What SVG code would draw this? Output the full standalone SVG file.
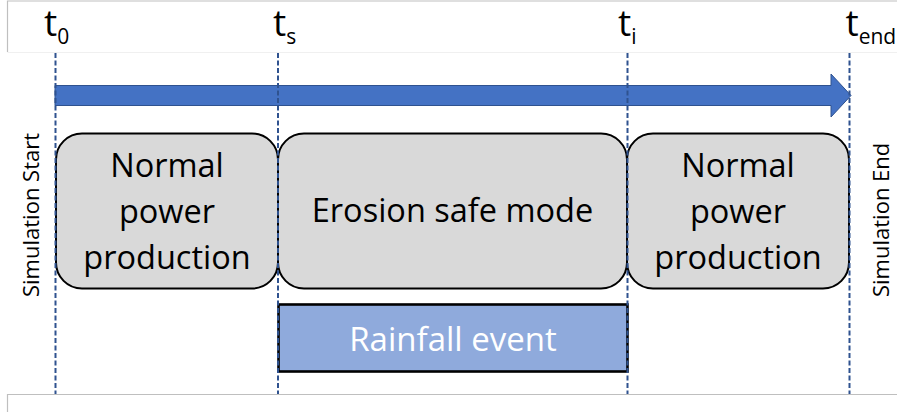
<svg xmlns="http://www.w3.org/2000/svg" width="897" height="412" viewBox="0 0 897 412">
  <style>
    .frame { fill: none; stroke: #bfbfbf; stroke-width: 1.2; }
    .frame-faint { fill: none; stroke: #f0f0f0; stroke-width: 1; }
    .phase { fill: #d9d9d9; stroke: #000; stroke-width: 2; }
    .label { font-family: "Open Sans", "Noto Sans", "Liberation Sans", sans-serif; fill: #000; }
    .phase-text { font-size: 32.5px; text-anchor: middle; }
    .side { font-size: 22px; }
    .tick { font-size: 37px; }
    .sub { font-size: 21px; }
    .guide { stroke: #2f528f; stroke-width: 2; stroke-dasharray: 5 2.5; fill: none; }
    .event { fill: #8faadc; stroke: #000; stroke-width: 2.6; }
  </style>

  <!-- light frame lines -->
  <path class="frame" d="M7.5 52 V1 H897"/>
  <path class="frame-faint" d="M7.5 52.5 H897"/>
  <path class="frame" d="M7.5 412 V394.5 H897"/>

  <!-- time labels -->
  <g id="time-labels" class="label">
    <text class="tick" x="44" y="36">t<tspan class="sub" dy="8">0</tspan></text>
    <text class="tick" x="273" y="36">t<tspan class="sub" dy="8">s</tspan></text>
    <text class="tick" x="618" y="36">t<tspan class="sub" dy="8">i</tspan></text>
    <text class="tick" x="845.5" y="36">t<tspan class="sub" dy="8">end</tspan></text>
  </g>

  <!-- time axis arrow -->
  <g id="timeline">
    <polygon points="55,85.5 831,85.5 831,74 851,95.5 831,117 831,105.5 55,105.5" fill="#4472c4" stroke="#2f528f" stroke-width="1"/>
  </g>

  <!-- phases -->
  <g id="phase-normal-1">
    <rect class="phase" x="56" y="133.5" width="222" height="155" rx="26" ry="26"/>
    <text class="label phase-text" x="167" y="176.5">Normal</text>
    <text class="label phase-text" x="167" y="222.5">power</text>
    <text class="label phase-text" x="167" y="268.5">production</text>
  </g>
  <g id="phase-erosion-safe">
    <rect class="phase" x="278" y="133.5" width="349" height="155" rx="26" ry="26"/>
    <text class="label phase-text" x="452.5" y="222">Erosion safe mode</text>
  </g>
  <g id="phase-normal-2">
    <rect class="phase" x="627" y="133.5" width="222" height="155" rx="26" ry="26"/>
    <text class="label phase-text" x="738" y="176.5">Normal</text>
    <text class="label phase-text" x="738" y="222.5">power</text>
    <text class="label phase-text" x="738" y="268.5">production</text>
  </g>

  <g id="rainfall-event">
    <rect class="event" x="278.5" y="304.5" width="349" height="67"/>
    <text class="label phase-text" x="453" y="351" style="fill:#fff;font-size:33px">Rainfall event</text>
  </g>

  <!-- simulation boundary labels -->
  <g id="sim-start">
    <text class="label side" transform="translate(38.5,297) rotate(-90)">Simulation Start</text>
  </g>
  <g id="sim-end">
    <text class="label side" transform="translate(888.5,297) rotate(-90)">Simulation End</text>
  </g>

  <!-- dashed time guides -->
  <g id="connectors">
    <line class="guide" x1="55.5" y1="53" x2="55.5" y2="394"/>
    <line class="guide" x1="278" y1="53" x2="278" y2="394"/>
    <line class="guide" x1="627.5" y1="53" x2="627.5" y2="394"/>
    <line class="guide" x1="849.5" y1="53" x2="849.5" y2="394"/>
  </g>
</svg>
